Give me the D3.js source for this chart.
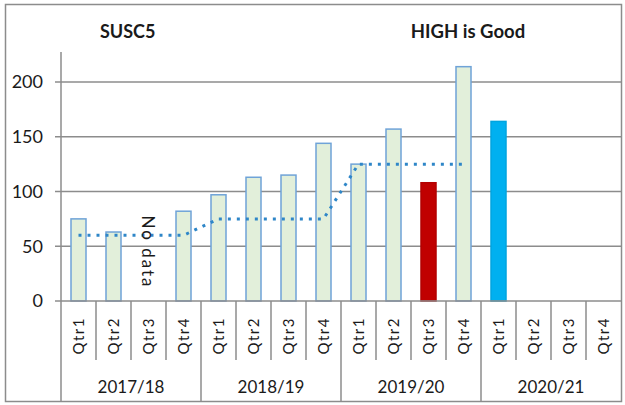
<!DOCTYPE html>
<html>
<head>
<meta charset="utf-8">
<script src="https://cdn.jsdelivr.net/npm/d3@7"></script>
<style>
  body { margin: 0; background: #fff; }
  text { font-family: Lato, "Open Sans", sans-serif; fill: #1a1a1a; }
</style>
</head>
<body>
<div id="chart"></div>
<script>
// chart data
var years = ["2017/18", "2018/19", "2019/20", "2020/21"];
var quarters = ["Qtr1", "Qtr2", "Qtr3", "Qtr4"];
var actual = [75, 63, null, 82, 97, 113, 115, 144, 125, 157, 108, 214, 164, null, null, null];
var target = [60, 60, 60, 60, 75, 75, 75, 75, 125, 125, 125, 125, null, null, null, null];
var barColors = { 10: "#c00000", 12: "#00b0f0" }; // highlighted quarters
var yTicks = [0, 50, 100, 150, 200];

var width = 625, height = 405;
var margin = { top: 52, right: 4, bottom: 104, left: 61 };

var cats = [];
years.forEach(function (y, i) {
    quarters.forEach(function (q, j) { cats.push({ year: y, q: q, i: i * 4 + j }); });
});

var svg = d3.select("#chart").append("svg")
    .attr("width", width)
    .attr("height", height);

// outer frame
svg.append("rect")
    .attr("x", 5.5).attr("y", 4.5)
    .attr("width", 616).attr("height", 397)
    .attr("fill", "#fff")
    .attr("stroke", "#8c8c8c")
    .attr("stroke-width", 1.5);

var x = d3.scaleBand()
    .domain(d3.range(cats.length))
    .range([margin.left, 621]);

var y = d3.scaleLinear()
    .domain([0, 200])
    .range([301, 82]);

var g = svg.append("g");

// gridlines + tick marks
g.selectAll(".grid")
    .data(yTicks.filter(function (d) { return d > 0; }))
    .enter().append("line")
    .attr("x1", 55).attr("x2", 621)
    .attr("y1", function (d) { return y(d); })
    .attr("y2", function (d) { return y(d); })
    .attr("stroke", "#8c8c8c")
    .attr("stroke-width", 1.5);

g.selectAll(".ylab")
    .data(yTicks)
    .enter().append("text")
    .attr("x", 43)
    .attr("y", function (d) { return y(d); })
    .attr("dy", "0.36em")
    .attr("text-anchor", "end")
    .style("font-size", "18px")
    .text(function (d) { return d; });

// bars
g.selectAll(".bar")
    .data(cats.filter(function (c) { return actual[c.i] != null; }))
    .enter().append("rect")
    .attr("x", function (c) { return x(c.i) + x.bandwidth() / 2 - 7.5; })
    .attr("y", function (c) { return y(actual[c.i]); })
    .attr("width", 15)
    .attr("height", function (c) { return y(0) - y(actual[c.i]); })
    .attr("fill", function (c) { return barColors[c.i] || "#e2efda"; })
    .attr("stroke", function (c) { return barColors[c.i] ? d3.color(barColors[c.i]).darker(0.2) : "#6fa3d8"; })
    .attr("stroke-width", 1.5);

// target line
var line = d3.line()
    .defined(function (d) { return d != null; })
    .x(function (d, i) { return x(i) + x.bandwidth() / 2; })
    .y(function (d) { return y(d); });

g.append("path")
    .datum(target)
    .attr("d", line)
    .attr("fill", "none")
    .attr("stroke", "#2e86c8")
    .attr("stroke-width", 3)
    .attr("stroke-dasharray", "3,6");

// axes lines
g.append("line")
    .attr("x1", margin.left).attr("x2", margin.left)
    .attr("y1", 52).attr("y2", 401)
    .attr("stroke", "#8c8c8c").attr("stroke-width", 1.5);
g.append("line")
    .attr("x1", 55).attr("x2", 621)
    .attr("y1", y(0)).attr("y2", y(0))
    .attr("stroke", "#8c8c8c").attr("stroke-width", 1.5);

// category separators
g.selectAll(".sep")
    .data(d3.range(1, cats.length))
    .enter().append("line")
    .attr("x1", function (i) { return x(i); })
    .attr("x2", function (i) { return x(i); })
    .attr("y1", y(0))
    .attr("y2", function (i) { return i % 4 === 0 ? 401 : 360; })
    .attr("stroke", "#8c8c8c")
    .attr("stroke-width", 1.5);

// quarter labels
g.selectAll(".qlab")
    .data(cats)
    .enter().append("text")
    .attr("transform", function (c) {
        return "translate(" + (x(c.i) + x.bandwidth() / 2) + ",317) rotate(-90)";
    })
    .attr("dy", "0.36em")
    .attr("text-anchor", "end")
    .style("font-size", "15px")
    .style("letter-spacing", "1.5px")
    .text(function (c) { return c.q; });

// year labels
g.selectAll(".ylab2")
    .data(years)
    .enter().append("text")
    .attr("x", function (d, i) { return (x(i * 4) + x(i * 4 + 3) + x.bandwidth()) / 2; })
    .attr("y", 387)
    .attr("dy", "0.36em")
    .attr("text-anchor", "middle")
    .style("font-size", "17px")
    .text(function (d) { return d; });

// "No data" note
g.append("text")
    .attr("transform", "translate(" + (x(2) + x.bandwidth() / 2) + ",252) rotate(90)")
    .attr("dy", "0.36em")
    .attr("text-anchor", "middle")
    .style("font-size", "17px")
    .style("letter-spacing", "2px")
    .text("No data");

// titles
svg.append("text")
    .attr("x", 100).attr("y", 38)
    .style("font-size", "18px").style("font-weight", "bold")
    .text("SUSC5");
svg.append("text")
    .attr("x", 468).attr("y", 38)
    .attr("text-anchor", "middle")
    .style("font-size", "18.5px").style("font-weight", "bold")
    .text("HIGH is Good");
</script>
</body>
</html>
